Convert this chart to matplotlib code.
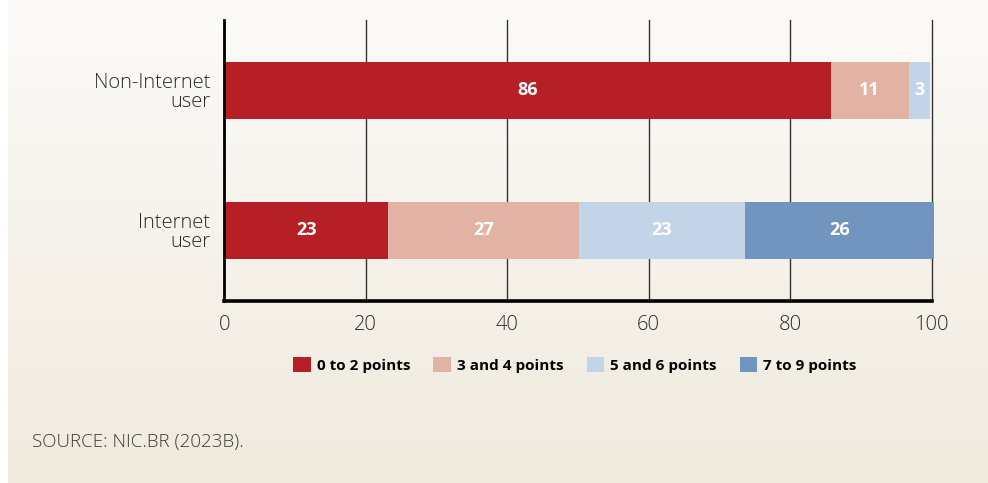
import numpy as np
import matplotlib
matplotlib.use("Agg")
import matplotlib.pyplot as plt
from matplotlib.patches import Patch

categories = ["Internet\nuser", "Non-Internet\nuser"]
series_names = ["0 to 2 points", "3 and 4 points", "5 and 6 points", "7 to 9 points"]
# values per series: [Internet user, Non-Internet user]
s0 = [23.2, 85.7]
s1 = [26.9, 11.1]
s2 = [23.5, 3.0]
s3 = [26.7, 0.0]
labels0 = ["23", "86"]
labels1 = ["27", "11"]
labels2 = ["23", "3"]
labels3 = ["26", ""]
xticks = [0, 20, 40, 60, 80, 100]
source = "SOURCE: NIC.BR (2023B)."

colors = ["#b71f27", "#e2b3a5", "#c3d3e8", "#7195be"]
series = [s0, s1, s2, s3]
labels = [labels0, labels1, labels2, labels3]

FONT = "Open Sans"

fig = plt.figure(figsize=(9.88, 4.83), dpi=100)
fig.patch.set_facecolor("white")

# background gradient panel
bg = fig.add_axes([8/988, 0, 1 - 8/988, 1], zorder=-10)
top = np.array([252, 251, 249]) / 255
bot = np.array([240, 234, 222]) / 255
t = np.linspace(0, 1, 256)[:, None, None]
grad = top * (1 - t) + bot * t
grad = np.repeat(grad, 2, axis=1)
bg.imshow(grad, aspect="auto", extent=[0, 1, 0, 1])
bg.set_axis_off()

ax = fig.add_axes([224.2/988, 1 - 300.5/483, (931.7 - 224.2)/988, (300.5 - 20)/483])
ax.set_facecolor("none")

y = np.arange(len(categories))
left = np.zeros(len(categories))
for vals, col, labs in zip(series, colors, labels):
    vals = np.array(vals)
    bars = ax.barh(y, vals, left=left, height=0.405, color=col, zorder=3, clip_on=False)
    for b, v, lab, l in zip(bars, vals, labs, left):
        if lab:
            ax.text(l + v / 2, b.get_y() + b.get_height() / 2, lab, ha="center", va="center",
                    color="white", fontsize=13, fontweight="bold", family=FONT, zorder=4)
    left = left + vals

ax.set_xlim(0, 100)
ax.set_ylim(-0.5, 1.5)
ax.set_xticks(xticks)
ax.set_xticklabels([str(v) for v in xticks], fontsize=14.5, family=FONT, fontweight="light", color="#2a2a2a")
ax.set_yticks(y)
ax.set_yticklabels(categories, fontsize=14.5, family=FONT, fontweight="light", color="#2a2a2a",
                   linespacing=0.95)
ax.tick_params(axis="both", length=0)
ax.tick_params(axis="x", pad=10.5)
ax.tick_params(axis="y", pad=10)
ax.grid(axis="x", color="#333333", lw=1.0, zorder=1)
for gl in ax.get_xgridlines():
    gl.set_clip_on(False)
for s in ["top", "right"]:
    ax.spines[s].set_visible(False)
ax.spines["left"].set_linewidth(2.0)
ax.spines["left"].set_zorder(5)
ax.spines["bottom"].set_linewidth(2.6)
ax.spines["bottom"].set_zorder(5)

handles = [Patch(facecolor=c, edgecolor="none") for c in colors]
fig.legend(handles, series_names, loc="center", bbox_to_anchor=(575/988, 1 - 365/483),
           ncol=4, frameon=False, handlelength=1.15, handleheight=1.15, handletextpad=0.4,
           columnspacing=1.5, prop={"family": FONT, "weight": "bold", "size": 11})

fig.text(32/988, 1 - 442/483, source, fontsize=13.5, family=FONT, fontweight="light",
         color="#3a3a3a", ha="left", va="center")

fig.savefig("out.png", dpi=100)
